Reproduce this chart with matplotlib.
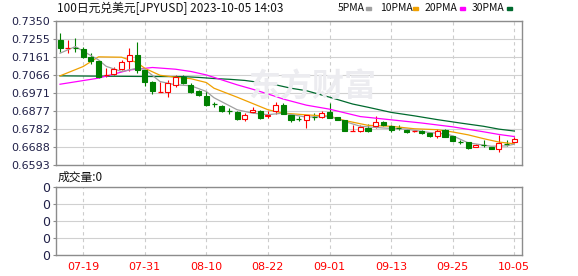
import matplotlib
matplotlib.use('Agg')
import matplotlib.pyplot as plt
from matplotlib.patches import Rectangle

# 交易日 (07-14 .. 10-05)
dates = ['07-14', '07-17', '07-18', '07-19', '07-20', '07-21', '07-24', '07-25', '07-26', '07-27',
         '07-28', '07-31', '08-01', '08-02', '08-03', '08-04', '08-07', '08-08', '08-09', '08-10',
         '08-11', '08-14', '08-15', '08-16', '08-17', '08-18', '08-21', '08-22', '08-23', '08-24',
         '08-25', '08-28', '08-29', '08-30', '08-31', '09-01', '09-04', '09-05', '09-06', '09-07',
         '09-08', '09-11', '09-12', '09-13', '09-14', '09-15', '09-18', '09-19', '09-20', '09-21',
         '09-22', '09-25', '09-26', '09-27', '09-28', '09-29', '10-02', '10-03', '10-04', '10-05']

opens = [0.7249, 0.7208, 0.7207, 0.7200, 0.7158, 0.7140, 0.7062, 0.7070, 0.7095, 0.7140,
         0.7170, 0.7091, 0.7030, 0.6976, 0.6973, 0.7013, 0.7053, 0.7013, 0.6978, 0.6955,
         0.6914, 0.6903, 0.6874, 0.6868, 0.6833, 0.6870, 0.6873, 0.6847, 0.6873, 0.6905,
         0.6856, 0.6834, 0.6830, 0.6845, 0.6842, 0.6870, 0.6842, 0.6830, 0.6771, 0.6772,
         0.6786, 0.6798, 0.6817, 0.6798, 0.6787, 0.6777, 0.6771, 0.6768, 0.6760, 0.6742,
         0.6777, 0.6742, 0.6714, 0.6711, 0.6687, 0.6697, 0.6685, 0.6677, 0.6703, 0.6713]
highs = [0.7287, 0.7249, 0.7257, 0.7214, 0.7179, 0.7142, 0.7100, 0.7109, 0.7144, 0.7205,
         0.7240, 0.7093, 0.7033, 0.7030, 0.7039, 0.7064, 0.7066, 0.7022, 0.6988, 0.6982,
         0.6925, 0.6905, 0.6891, 0.6873, 0.6864, 0.6894, 0.6882, 0.6873, 0.6920, 0.6917,
         0.6859, 0.6850, 0.6856, 0.6865, 0.6876, 0.6917, 0.6845, 0.6830, 0.6800, 0.6800,
         0.6807, 0.6847, 0.6822, 0.6801, 0.6800, 0.6783, 0.6778, 0.6774, 0.6762, 0.6783,
         0.6780, 0.6745, 0.6725, 0.6713, 0.6702, 0.6725, 0.6687, 0.6747, 0.6721, 0.6738]
lows = [0.7188, 0.7179, 0.7188, 0.7153, 0.7121, 0.7051, 0.7056, 0.7065, 0.7091, 0.7083,
        0.7074, 0.7009, 0.6966, 0.6973, 0.6951, 0.7004, 0.7017, 0.6969, 0.6952, 0.6899,
        0.6896, 0.6868, 0.6860, 0.6829, 0.6823, 0.6866, 0.6833, 0.6836, 0.6861, 0.6857,
        0.6819, 0.6821, 0.6786, 0.6830, 0.6836, 0.6838, 0.6828, 0.6768, 0.6768, 0.6767,
        0.6765, 0.6786, 0.6795, 0.6767, 0.6777, 0.6758, 0.6765, 0.6756, 0.6740, 0.6734,
        0.6737, 0.6716, 0.6704, 0.6678, 0.6684, 0.6685, 0.6676, 0.6660, 0.6690, 0.6708]
closes = [0.7205, 0.7210, 0.7204, 0.7161, 0.7140, 0.7053, 0.7065, 0.7095, 0.7132, 0.7170,
          0.7091, 0.7030, 0.6978, 0.6978, 0.7022, 0.7053, 0.7022, 0.6973, 0.6961, 0.6908,
          0.6912, 0.6873, 0.6872, 0.6833, 0.6856, 0.6882, 0.6838, 0.6856, 0.6908, 0.6860,
          0.6830, 0.6832, 0.6853, 0.6843, 0.6865, 0.6838, 0.6830, 0.6768, 0.6773, 0.6790,
          0.6768, 0.6815, 0.6800, 0.6777, 0.6785, 0.6763, 0.6773, 0.6760, 0.6742, 0.6772,
          0.6737, 0.6716, 0.6712, 0.6681, 0.6699, 0.6695, 0.6676, 0.6707, 0.6701, 0.6729]

# 均线 (读图取样)
ma5_idx = [0, 2, 3, 5, 6, 8, 10, 11, 13, 15, 17, 19, 20, 23, 25, 27, 29, 32, 35, 37, 39, 42, 45, 48, 50, 51, 53, 56, 58, 59]
ma5_val = [0.7179, 0.7214, 0.7190, 0.7144, 0.7110, 0.7083, 0.7100, 0.7095, 0.7030, 0.7013,
           0.7008, 0.6978, 0.6945, 0.6882, 0.6864, 0.6856, 0.6864, 0.6843, 0.6847, 0.6820,
           0.6795, 0.6786, 0.6780, 0.6762, 0.6755, 0.6745, 0.6708, 0.6690, 0.6692, 0.6701]
ma10_idx = [0, 3, 5, 8, 10, 11, 13, 15, 17, 19, 20, 23, 25, 27, 29, 32, 35, 37, 40, 43, 46, 49, 51, 53, 55, 57, 59]
ma10_val = [0.7060, 0.7109, 0.7160, 0.7158, 0.7130, 0.7100, 0.7063, 0.7053, 0.7045, 0.7025,
            0.6995, 0.6948, 0.6915, 0.6882, 0.6864, 0.6855, 0.6848, 0.6825, 0.6800, 0.6795,
            0.6782, 0.6777, 0.6765, 0.6750, 0.6730, 0.6712, 0.6703]
ma20_idx = [0, 5, 9, 12, 15, 17, 19, 21, 23, 25, 27, 29, 32, 35, 39, 43, 47, 51, 55, 57, 59]
ma20_val = [0.7016, 0.7048, 0.7091, 0.7104, 0.7095, 0.7083, 0.7065, 0.7039, 0.7013, 0.6990,
            0.6965, 0.6938, 0.6906, 0.6885, 0.6846, 0.6829, 0.6812, 0.6792, 0.6766, 0.6752, 0.6741]
ma30_idx = [0, 10, 16, 18, 20, 22, 24, 26, 28, 30, 32, 35, 38, 40, 43, 46, 49, 52, 55, 57, 59]
ma30_val = [0.7060, 0.7057, 0.7056, 0.7052, 0.7046, 0.7042, 0.7036, 0.7025, 0.7013, 0.6995,
            0.6982, 0.6948, 0.6912, 0.6895, 0.6868, 0.6850, 0.6830, 0.6812, 0.6795, 0.6780, 0.6770]

price_ticks = [0.6593, 0.6688, 0.6782, 0.6877, 0.6971, 0.7066, 0.7161, 0.7255, 0.7350]
date_labels = ['07-19', '07-31', '08-10', '08-22', '09-01', '09-13', '09-25', '10-05']
vol_ticks = [0, 1, 2, 3, 4]
vol_labels = ['0', '0', '0', '0', '0']

plt.rcParams['font.family'] = ['DejaVu Sans']
cjk = ['Noto Sans CJK SC', 'DejaVu Sans']

W, H = 578, 276
fig = plt.figure(figsize=(W / 100, H / 100), dpi=100)
fig.patch.set_facecolor('white')

def fx(px):
    return px / W

def fy(py):
    return 1 - py / H

ax = fig.add_axes([fx(56), fy(164.7), fx(522) - fx(56), fy(20.7) - fy(164.7)])
axv = fig.add_axes([fx(56), fy(255.3), fx(522) - fx(56), fy(186.7) - fy(255.3)])

spine_col = '#8c8c8c'
label_col = '#202048'
xpos = [dates.index(d) for d in date_labels]

for a in (ax, axv):
    a.set_xlim(-0.52, 60.0)
    for s in a.spines.values():
        s.set_color(spine_col)
        s.set_linewidth(1.0)
    a.set_xticks(xpos)
    for x in xpos:
        a.axvline(x, color='#cccccc', lw=0.8, ls=(0, (3, 3)), zorder=0)
    a.tick_params(axis='x', length=0)
    a.tick_params(axis='y', length=2.5, width=0.8, color=spine_col, pad=1.5,
                  labelsize=8, labelcolor=label_col)

# 价格面板
ax.set_ylim(price_ticks[0], price_ticks[-1])
ax.set_yticks(price_ticks)
ax.set_yticklabels([f'{t:.4f}' for t in price_ticks])
for t in price_ticks:
    ax.axhline(t, color='#d0d0d0', lw=0.8, zorder=0)
ax.set_xticklabels([])

# 水印
fig.text(fx(312), fy(88), '东方财富', family=cjk, fontsize=23, fontweight='bold',
         color='#ececf0', ha='center', va='center', zorder=0.5)

bw = 0.65
for i in range(len(dates)):
    o, h, l, c = opens[i], highs[i], lows[i], closes[i]
    up = c >= o
    col = '#ff0000' if up else '#008000'
    ax.vlines(i, l, h, color=col, lw=0.8, zorder=2)
    top, bot = max(o, c), min(o, c)
    if top - bot < 0.0004:
        ax.hlines((o + c) / 2, i - bw / 2, i + bw / 2, color=col, lw=0.9, zorder=3)
    else:
        ax.add_patch(Rectangle((i - bw / 2, bot), bw, top - bot,
                               facecolor='white' if up else col, edgecolor=col,
                               lw=0.8, zorder=3))

ax.plot(ma30_idx, ma30_val, color='#006a2e', lw=0.9, zorder=2.5)
ax.plot(ma20_idx, ma20_val, color='#ff00ff', lw=0.9, zorder=2.5)
ax.plot(ma10_idx, ma10_val, color='#f0a000', lw=0.9, zorder=2.5)
ax.plot(ma5_idx, ma5_val, color='#a0a0a0', lw=0.9, zorder=2.5)
ax.patch.set_alpha(0)

# 成交量面板
axv.set_ylim(vol_ticks[0], vol_ticks[-1])
axv.set_yticks(vol_ticks)
axv.set_yticklabels(vol_labels)
axv.tick_params(axis='y', labelsize=9)
for t in vol_ticks:
    axv.axhline(t, color='#d0d0d0', lw=0.8, zorder=0)
axv.set_xticklabels(date_labels, color='#ff0000', fontsize=8)
axv.tick_params(axis='x', pad=5)

# 标题与图例
fig.text(fx(57), fy(8), '100日元兑美元[JPYUSD] 2023-10-05 14:03', family=cjk,
         fontsize=8.5, color='#111111', ha='left', va='center')
legend_items = [('5PMA', '#a0a0a0', 338, 366), ('10PMA', '#f0a000', 380, 413),
                ('20PMA', '#ff00ff', 425, 460), ('30PMA', '#006a2e', 472, 507)]
for name, col, x0, xm in legend_items:
    fig.text(fx(x0), fy(8), name, family=cjk, fontsize=7.5, color='#111111',
             ha='left', va='center')
    fig.add_artist(Rectangle((fx(xm), fy(9.5)), 5 / W, 2.5 / H, color=col,
                             transform=fig.transFigure))

fig.text(fx(58), fy(177.5), '成交量:0', family=cjk, fontsize=8.5, color='#111111',
         ha='left', va='center')

fig.savefig('out.png', dpi=100)
